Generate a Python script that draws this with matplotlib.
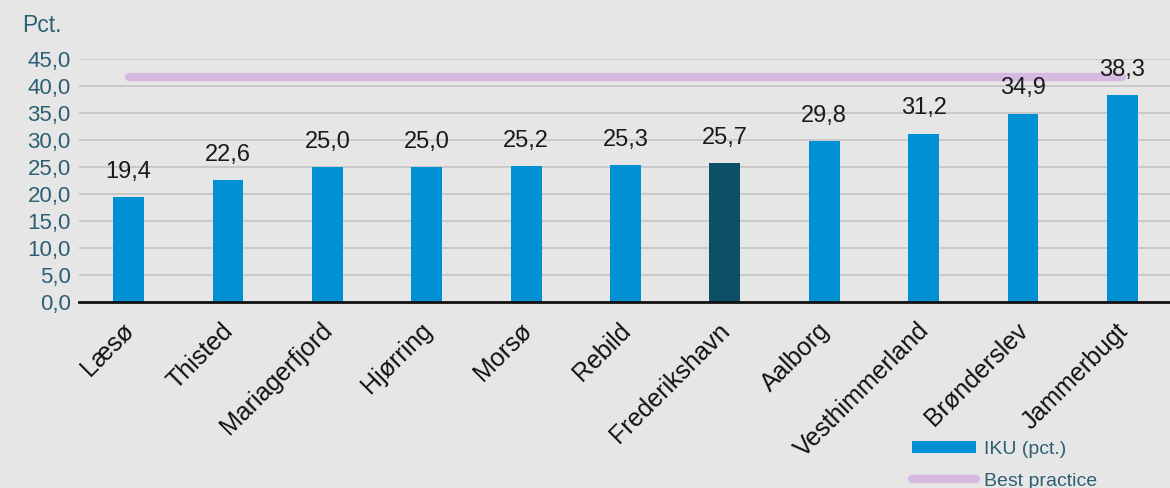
import matplotlib
matplotlib.use("Agg")
import matplotlib.pyplot as plt
import matplotlib.transforms as mtransforms
from matplotlib.lines import Line2D
from matplotlib.patches import Patch

municipalities = ["Læsø", "Thisted", "Mariagerfjord", "Hjørring", "Morsø", "Rebild",
                  "Frederikshavn", "Aalborg", "Vesthimmerland", "Brønderslev", "Jammerbugt"]
iku_values = [19.4, 22.6, 25.0, 25.0, 25.2, 25.3, 25.7, 29.8, 31.2, 34.9, 38.3]
best_practice = 41.7
highlight = "Frederikshavn"
y_ticks = [0, 5, 10, 15, 20, 25, 30, 35, 40, 45]

BG = "#e6e6e6"
BLUE = "#0091d5"
DARK = "#0d4f66"
LAVENDER = "#d6b9e1"
TEAL = "#2c5f74"

plt.rcParams["font.family"] = ["Arial", "Liberation Sans", "DejaVu Sans"]

fig = plt.figure(figsize=(11.7, 4.88), dpi=100, facecolor=BG)
ax = fig.add_axes([79 / 1170, 1 - 302 / 488, 1093 / 1170, (302 - 59) / 488])
ax.set_facecolor(BG)

x = list(range(len(municipalities)))
colors = [DARK if m == highlight else BLUE for m in municipalities]
ax.bar(x, iku_values, width=0.31, color=colors, zorder=3)
ax.plot([x[0], x[-1]], [best_practice] * 2, color=LAVENDER, lw=6,
        solid_capstyle="round", zorder=2)

for xi, v in zip(x, iku_values):
    ax.text(xi, v + 2.6, f"{v:.1f}".replace(".", ","), ha="center", va="bottom",
            fontsize=17, color="#1a1a1a", zorder=4)

ax.set_xlim(-0.5, len(municipalities) - 0.5)
ax.set_ylim(0, 45)
ax.set_yticks(y_ticks)
ax.set_yticklabels([f"{t:.1f}".replace(".", ",") for t in y_ticks], color=TEAL, fontsize=16)
ax.grid(axis="y", color="#c4c4c4", lw=1.2, zorder=0)
ax.set_xticks(x)
ax.set_xticklabels(municipalities, rotation=45, ha="right", rotation_mode="anchor",
                   fontsize=18, color="#111111")
ax.tick_params(axis="y", length=0, pad=6)
ax.tick_params(axis="x", length=0, pad=4)
shift = mtransforms.ScaledTranslation(-7 / 100, -11 / 100, fig.dpi_scale_trans)
for lbl in ax.get_xticklabels():
    lbl.set_transform(lbl.get_transform() + shift)
for side in ("top", "right", "left"):
    ax.spines[side].set_visible(False)
ax.spines["bottom"].set_color("#111111")
ax.spines["bottom"].set_linewidth(2)
ax.spines["bottom"].set_zorder(5)

fig.text(22 / 1170, 1 - 25 / 488, "Pct.", color=TEAL, fontsize=16.5, va="center", ha="left")

handles = [Patch(facecolor=BLUE, label="IKU (pct.)"),
           Line2D([0], [0], color=LAVENDER, lw=6, solid_capstyle="round", label="Best practice")]
leg = fig.legend(handles=handles, loc="upper left", bbox_to_anchor=(912 / 1170, 1 - 441 / 488),
                 frameon=False, fontsize=14, handlelength=3.3, handleheight=0.55,
                 labelspacing=0.75, handletextpad=0.4, borderaxespad=0, borderpad=0)
for t in leg.get_texts():
    t.set_color(TEAL)

fig.savefig("out.png", dpi=100, facecolor=BG)
